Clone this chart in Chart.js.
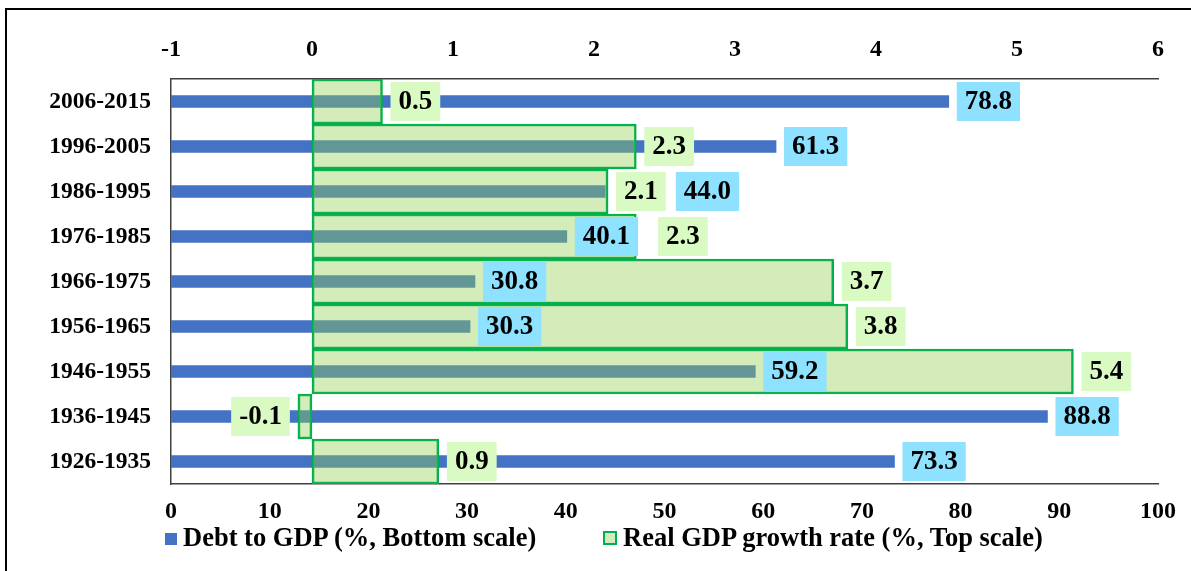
<!DOCTYPE html>
<html>
<head>
<meta charset="utf-8">
<script src="https://cdn.jsdelivr.net/npm/chart.js@4.4.1/dist/chart.umd.min.js"></script>
<style>
  html, body { margin: 0; padding: 0; background: #fff; }
  #wrap { position: relative; width: 1191px; height: 571px; overflow: hidden; }
  #frame { position: absolute; left: 5px; top: 8px; width: 1300px; height: 700px;
           border-left: 2px solid #000; border-top: 2px solid #000; }
  canvas { position: absolute; left: 0; top: 0; }
  .leg { position: absolute; top: 519px; font: bold 26.5px "Liberation Serif", "Times New Roman", serif;
         color: #000; white-space: nowrap; line-height: 36px; }
  .leg i { display: inline-block; width: 12px; height: 12px; margin-right: 6px; vertical-align: 1px; box-sizing: border-box; }
</style>
</head>
<body>
<div id="wrap">
  <div id="frame"></div>
  <canvas id="chart" width="1191" height="571"></canvas>
  <div class="leg" style="left:165px"><i style="background:#4472C4"></i>Debt to GDP (%, Bottom scale)</div>
  <div class="leg" style="left:603px"><i style="background:#D5EBBE;border:2px solid #00B050;width:14px;height:14px"></i>Real GDP growth rate (%, Top scale)</div>
</div>
<script>
// data
const periods = ['2006-2015', '1996-2005', '1986-1995', '1976-1985', '1966-1975', '1956-1965', '1946-1955', '1936-1945', '1926-1935'];
const debtToGdp = [78.8, 61.3, 44.0, 40.1, 30.8, 30.3, 59.2, 88.8, 73.3];
const realGdpGrowth = [0.5, 2.3, 2.1, 2.3, 3.7, 3.8, 5.4, -0.1, 0.9];

const serif = '"Liberation Serif", "Times New Roman", serif';

// boxed value labels next to the bar ends
const labelBoxes = {
  id: 'labelBoxes',
  afterDatasetsDraw(chart) {
    const ctx = chart.ctx;
    ctx.save();
    ctx.font = 'bold 27px ' + serif;
    ctx.textAlign = 'center';
    ctx.textBaseline = 'middle';
    const gap = 8, padX = 8, boxH = 39;
    const debtMeta = chart.getDatasetMeta(0);
    const growthMeta = chart.getDatasetMeta(1);

    const greenBoxes = growthMeta.data.map((bar, i) => {
      const v = realGdpGrowth[i];
      const txt = v.toFixed(1);
      const w = ctx.measureText(txt).width + padX * 2;
      const left = v < 0 ? bar.x - gap - w : bar.x + gap;
      return { left, w, txt, y: bar.y, bg: '#DAFAC3' };
    });
    const blueBoxes = debtMeta.data.map((bar, i) => {
      const txt = debtToGdp[i].toFixed(1);
      const w = ctx.measureText(txt).width + padX * 2;
      let left = bar.x + gap;
      const g = greenBoxes[i];
      if (left < g.left + g.w && left + w > g.left) left = g.left + g.w + 10;
      // keep a bit of air when the two boxes nearly touch
      else if (g.left >= left + w && g.left < left + w + 20) g.left = left + w + 20;
      return { left, w, txt, y: bar.y, bg: '#8EE1FF' };
    });

    greenBoxes.concat(blueBoxes).forEach(b => {
      ctx.fillStyle = b.bg;
      ctx.fillRect(b.left, b.y - boxH / 2, b.w, boxH);
      ctx.fillStyle = '#000';
      ctx.fillText(b.txt, b.left + b.w / 2, b.y + 1);
    });
    ctx.restore();
  }
};

const tickFont = { family: serif, size: 24, weight: 'bold' };
const axisBorder = { display: true, color: '#404040', width: 1.5 };

new Chart(document.getElementById('chart').getContext('2d'), {
  type: 'bar',
  data: {
    labels: periods,
    datasets: [{
      label: 'Debt to GDP (%, Bottom scale)',
      data: debtToGdp,
      xAxisID: 'x',
      backgroundColor: '#4472C4',
      barThickness: 12,
      grouped: false,
      order: 2
    }, {
      label: 'Real GDP growth rate (%, Top scale)',
      data: realGdpGrowth,
      xAxisID: 'x2',
      backgroundColor: 'rgba(146, 208, 80, 0.4)',
      borderColor: '#00B050',
      borderWidth: 2,
      borderSkipped: false,
      barPercentage: 1,
      categoryPercentage: 1,
      grouped: false,
      order: 1
    }]
  },
  options: {
    indexAxis: 'y',
    responsive: false,
    animation: false,
    layout: { padding: { left: 0, right: 33, top: 0, bottom: 0 } },
    plugins: {
      legend: { display: false },
      tooltip: { enabled: false }
    },
    scales: {
      y: {
        position: 'left',
        grid: { display: false, drawTicks: false },
        border: axisBorder,
        ticks: { font: { family: serif, size: 23.5, weight: 'bold' }, color: '#000', padding: 20 },
        afterFit(s) { s.width = 171; }
      },
      x: {
        position: 'bottom',
        min: 0,
        max: 100,
        grid: { display: false, drawTicks: false },
        border: axisBorder,
        ticks: { stepSize: 10, font: tickFont, color: '#000', padding: 13, maxRotation: 0 },
        afterFit(s) { s.height = 87; }
      },
      x2: {
        position: 'top',
        min: -1,
        max: 6,
        grid: { display: false, drawTicks: false },
        border: axisBorder,
        ticks: { stepSize: 1, font: tickFont, color: '#000', padding: 15, maxRotation: 0 },
        afterFit(s) { s.height = 79; }
      }
    }
  },
  plugins: [labelBoxes]
});
</script>
</body>
</html>
